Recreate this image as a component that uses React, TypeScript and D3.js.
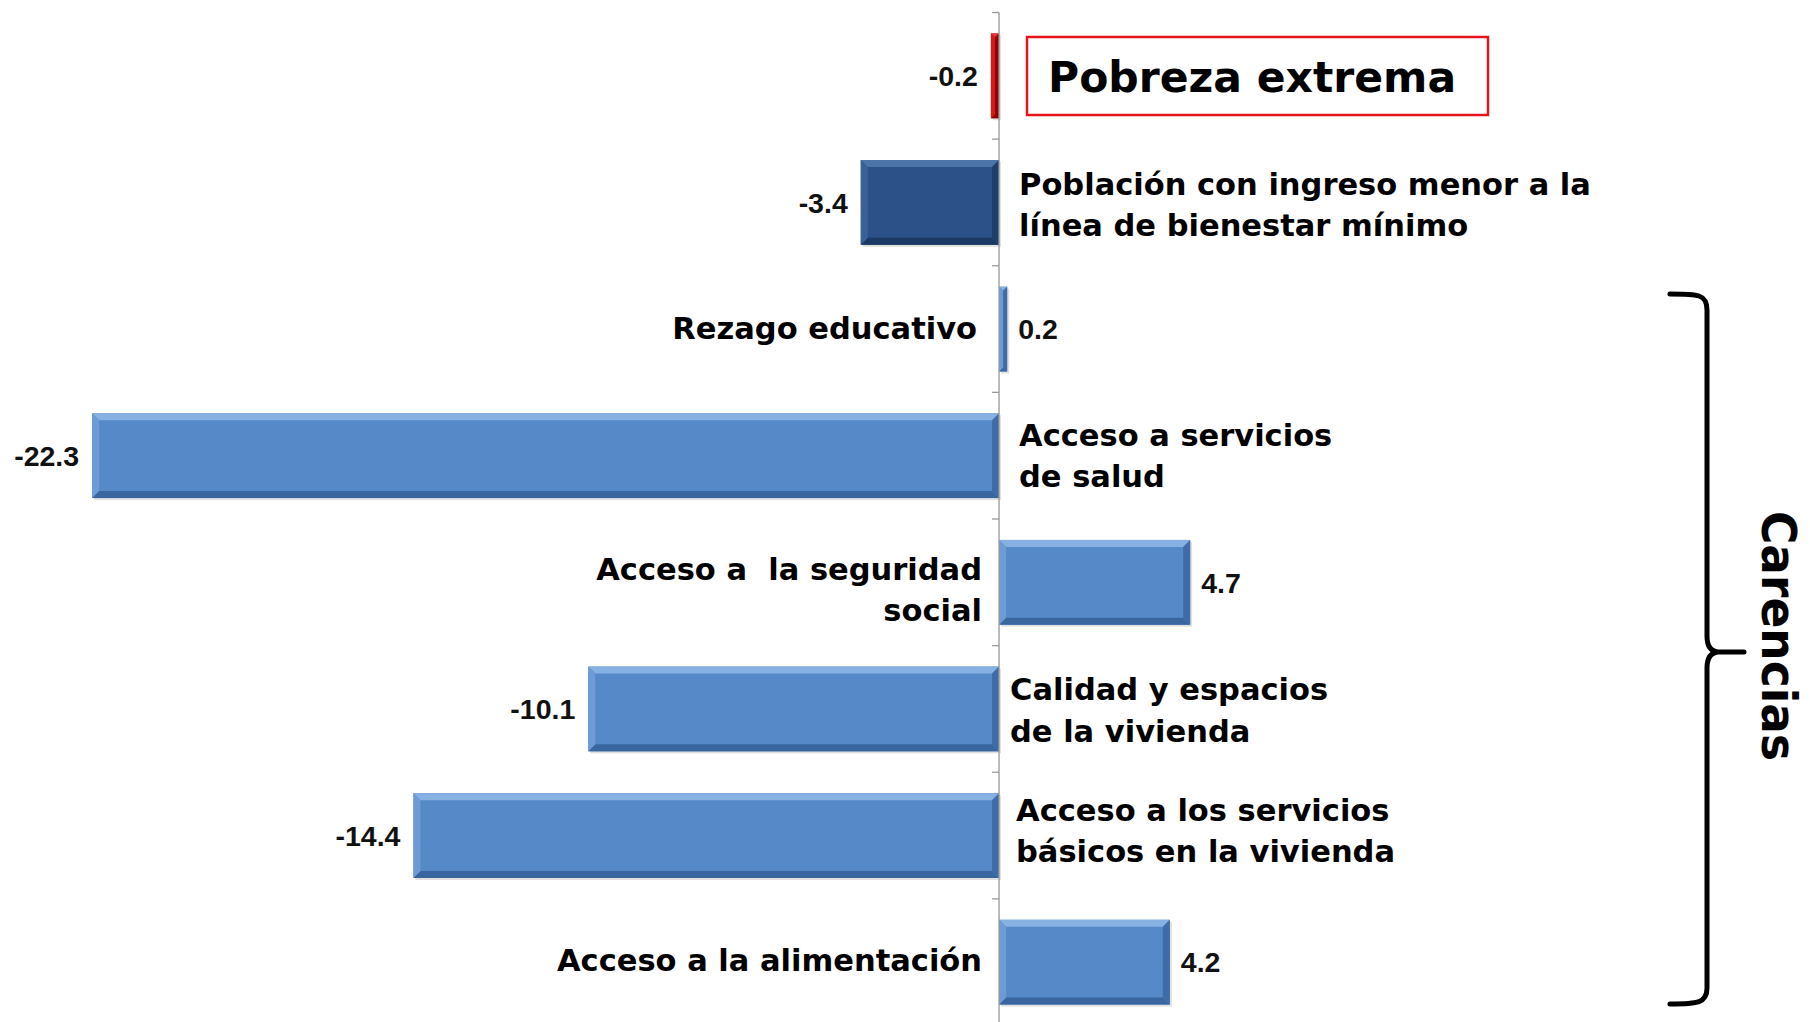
import React from "react";
import * as d3 from "d3";

const categories = [
  "Pobreza extrema",
  "Población con ingreso menor a la línea de bienestar mínimo",
  "Rezago educativo",
  "Acceso a servicios de salud",
  "Acceso a la seguridad social",
  "Calidad y espacios de la vivienda",
  "Acceso a los servicios básicos en la vivienda",
  "Acceso a la alimentación",
];
const values = [-0.2, -3.4, 0.2, -22.3, 4.7, -10.1, -14.4, 4.2];
const valueLabels = ["-0.2", "-3.4", "0.2", "-22.3", "4.7", "-10.1", "-14.4", "4.2"];
const kinds = ["extrema", "ingreso", "carencia", "carencia", "carencia", "carencia", "carencia", "carencia"];
const labelLines = [
  ["Pobreza extrema"],
  ["Población con ingreso menor a la", "línea de bienestar mínimo"],
  ["Rezago educativo"],
  ["Acceso a servicios", "de salud"],
  ["Acceso a  la seguridad", "social"],
  ["Calidad y espacios", "de la vivienda"],
  ["Acceso a los servicios", "básicos en la vivienda"],
  ["Acceso a la alimentación"],
];
const labelSide = ["box", "right", "left", "right", "left", "right", "right", "left"];
const groupTitle = "Carencias";

// layout (not data)
const labelDx = [0, 20, -22, 20, -17, 11, 17, -17];
const labelDy = [0, 2, -1, 0, 7, 1, -5, -2];

const W = 1810;
const H = 1022;

const palette: Record<string, { main: string; top: string; left: string; bottom: string; right: string }> = {
  extrema: { main: "#C00000", top: "#E23A3A", left: "#D41A1A", bottom: "#8A0000", right: "#920000" },
  ingreso: { main: "#2B5188", top: "#4C74A8", left: "#3A6098", bottom: "#1B3962", right: "#1F3E6B" },
  carencia: { main: "#5589C8", top: "#87B0E3", left: "#6E9BD6", bottom: "#3A669F", right: "#3F6CA6" },
};

export default function App() {
  const x = d3.scaleLinear().domain([-24, 20]).range([23.0, 1812.4]);
  const y = d3
    .scaleBand<string>()
    .domain(categories)
    .range([12.5, 1025.5])
    .paddingInner(0.33)
    .paddingOuter(0.165);
  const bw = y.bandwidth();
  const step = y.step();
  const x0 = x(0);
  const catFont = "'DejaVu Sans', Verdana, sans-serif";
  const numFont = "'Liberation Sans', Arial, sans-serif";
  const lineH = 41.5;

  const tickYs = categories.map((c) => (y(c) as number) - (step * y.paddingInner()) / 2);

  return (
    <svg
      width={W}
      height={H}
      style={{ position: "absolute", left: 0, top: 0, background: "#fff" }}
      xmlns="http://www.w3.org/2000/svg"
    >
      <rect x={0} y={0} width={W} height={H} fill="#fff" />
      {/* bars */}
      {values.map((v, i) => {
        const c = categories[i];
        const yy = y(c) as number;
        const xa = Math.min(x(v), x0);
        const xb = Math.max(x(v), x0);
        const y1 = yy + bw;
        const b = Math.min(7, (xb - xa) / 2);
        const p = palette[kinds[i]];
        return (
          <g key={c}>
            <rect x={xa + 2} y={yy + 2} width={xb - xa} height={bw} fill="#000" opacity={0.12} />
            <rect x={xa} y={yy} width={xb - xa} height={bw} fill={p.main} />
            <polygon points={`${xa},${yy} ${xb},${yy} ${xb - b},${yy + b} ${xa + b},${yy + b}`} fill={p.top} />
            <polygon points={`${xa},${y1} ${xb},${y1} ${xb - b},${y1 - b} ${xa + b},${y1 - b}`} fill={p.bottom} />
            <polygon points={`${xa},${yy} ${xa + b},${yy + b} ${xa + b},${y1 - b} ${xa},${y1}`} fill={p.left} />
            <polygon points={`${xb},${yy} ${xb - b},${yy + b} ${xb - b},${y1 - b} ${xb},${y1}`} fill={p.right} />
          </g>
        );
      })}

      {/* axis */}
      <line x1={x0} x2={x0} y1={12.5} y2={H} stroke="#999" strokeWidth={1.3} />
      {tickYs.map((t, i) => (
        <line key={i} x1={x0 - 7} x2={x0} y1={t} y2={t} stroke="#999" strokeWidth={1.3} />
      ))}

      {/* value labels */}
      {values.map((v, i) => {
        const cy = (y(categories[i]) as number) + bw / 2;
        const neg = v < 0;
        return (
          <text
            key={"v" + i}
            x={neg ? x(v) - 13 : x(v) + 11}
            y={cy}
            dy="0.36em"
            textAnchor={neg ? "end" : "start"}
            fontFamily={numFont}
            fontWeight="bold"
            fontSize={28.5}
            fill="#111"
          >
            {valueLabels[i]}
          </text>
        );
      })}

      {/* category labels */}
      {labelLines.map((lines, i) => {
        const side = labelSide[i];
        const cy = (y(categories[i]) as number) + bw / 2 + labelDy[i];
        if (side === "box") {
          return (
            <g key={"l" + i}>
              <rect x={1027} y={37} width={461} height={78} fill="none" stroke="#E8141B" strokeWidth={2.5} />
              <text
                x={1048}
                y={cy + 1}
                dy="0.36em"
                fontFamily={catFont}
                fontWeight="bold"
                fontSize={42.5}
                fill="#000"
              >
                {lines[0]}
              </text>
            </g>
          );
        }
        const n = lines.length;
        return (
          <text
            key={"l" + i}
            x={x0 + labelDx[i]}
            textAnchor={side === "left" ? "end" : "start"}
            fontFamily={catFont}
            fontWeight="bold"
            fontSize={30.5}
            fill="#000"
            style={{ whiteSpace: "pre" }}
          >
            {lines.map((ln, j) => (
              <tspan key={j} x={x0 + labelDx[i]} y={cy + (j - (n - 1) / 2) * lineH} dy="0.36em">
                {ln}
              </tspan>
            ))}
          </text>
        );
      })}

      {/* brace */}
      <path
        d={`M 1670 294 C 1698 294 1707 294 1707 310 L 1707 636 Q 1707 651 1718 652 L 1744 652
            M 1718 652 Q 1707 653 1707 668 L 1707 988 C 1707 1003 1698 1004 1670 1004`}
        fill="none"
        stroke="#000"
        strokeWidth={5}
        strokeLinecap="round"
      />
      <text
        transform={`translate(1762, 636) rotate(90)`}
        textAnchor="middle"
        fontFamily={catFont}
        fontWeight="bold"
        fontSize={48}
        textLength={250}
        lengthAdjust="spacingAndGlyphs"
        fill="#000"
      >
        {groupTitle}
      </text>
    </svg>
  );
}
